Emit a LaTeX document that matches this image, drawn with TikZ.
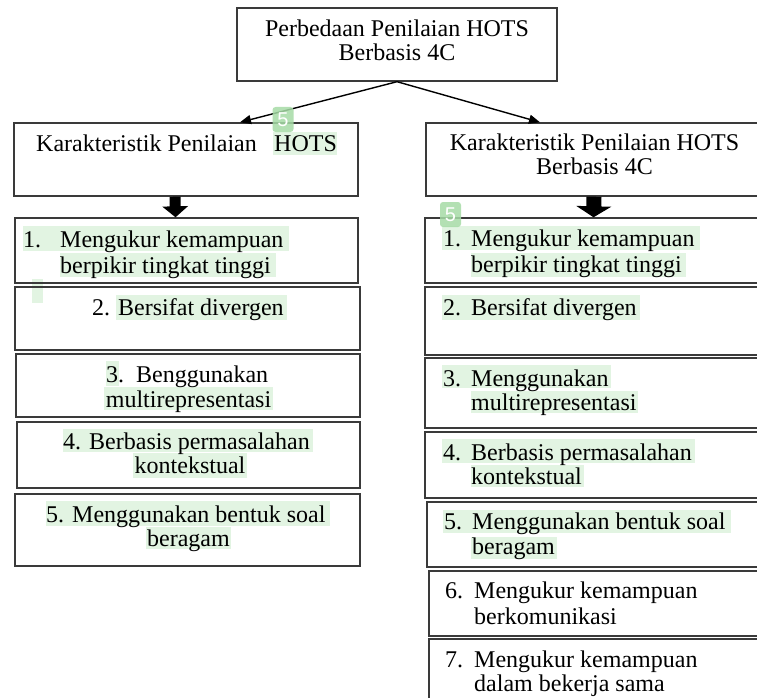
\documentclass[tikz,border=0pt]{standalone}
\usepackage{fontspec}
\setmainfont{Liberation Serif}
\newfontfamily\badgefont{Liberation Sans}
\usetikzlibrary{arrows.meta}
\definecolor{hlgreen}{HTML}{E2F4E2}
\definecolor{badgegreen}{HTML}{A6DBA6}
\definecolor{boxline}{HTML}{3A3A3A}
\begin{document}
\begin{tikzpicture}[x=1pt,y=-1pt,
  box/.style={draw=boxline, line width=1.4pt, rectangle, inner sep=0},
  txt/.style={anchor=base west, inner sep=0, font=\fontsize{24}{25}\selectfont},
  ctxt/.style={anchor=base, inner sep=0, font=\fontsize{24}{25}\selectfont},
  hl/.style={fill=hlgreen},
  badge/.style={fill=badgegreen, fill opacity=0.85, text opacity=1, text=white, rounded corners=3pt, inner sep=0, font=\badgefont\fontsize{20}{20}\selectfont},
  thinarrow/.style={draw=black, line width=1.4pt, -{Triangle[length=11pt,width=9pt]}},
  blockarrow/.style={draw=black, line width=#1, -{Triangle[length=11pt,width=2.3*#1]}}
]
\useasboundingbox (0,0) rectangle (757,698);
\clip (0,0) rectangle (757,698);
\fill[white] (0,0) rectangle (757,698);

% highlights
\fill[hl] (273,132) rectangle (337,155);
\fill[hl] (23,226) rectangle (289,251);
\fill[hl] (60,253) rectangle (276,277);
\fill[hl] (32,279) rectangle (43,303);
\fill[hl] (116,295) rectangle (287,320);
\fill[hl] (106,361) rectangle (119,386);
\fill[hl] (104,387) rectangle (273,410);
\fill[hl] (63,429) rectangle (313,452);
\fill[hl] (133,453) rectangle (247,478);
\fill[hl] (46,501) rectangle (330,526);
\fill[hl] (146,527) rectangle (231,549);
\fill[hl] (442,226) rectangle (700,250);
\fill[hl] (471,253) rectangle (686,277);
\fill[hl] (442,295) rectangle (640,320);
\fill[hl] (442,365) rectangle (611,388);
\fill[hl] (471,391) rectangle (638,413);
\fill[hl] (442,439) rectangle (695,463);
\fill[hl] (471,465) rectangle (584,487);
\fill[hl] (443,510) rectangle (731,533);
\fill[hl] (471,537) rectangle (557,559);

% boxes
\node[box, minimum width=320pt, minimum height=73pt] (top) at (397,44.5) {};
\node[box, minimum width=344pt, minimum height=73pt] (hdrL) at (186,159.5) {};
\node[box, minimum width=354pt, minimum height=73pt] (hdrR) at (603,159.5) {};
\node[box, minimum width=343pt, minimum height=65pt] (L1) at (186.5,250.5) {};
\node[box, minimum width=345pt, minimum height=63pt] (L2) at (187.5,318.5) {};
\node[box, minimum width=344pt, minimum height=63pt] (L3) at (188,385.5) {};
\node[box, minimum width=343pt, minimum height=66pt] (L4) at (188.5,455) {};
\node[box, minimum width=345pt, minimum height=72pt] (L5) at (187.5,530) {};
\node[box, minimum width=355pt, minimum height=65pt] (R1) at (602.5,250.5) {};
\node[box, minimum width=355pt, minimum height=68pt] (R2) at (602.5,321) {};
\node[box, minimum width=355pt, minimum height=70pt] (R3) at (602.5,393) {};
\node[box, minimum width=355pt, minimum height=66pt] (R4) at (602.5,465) {};
\node[box, minimum width=353pt, minimum height=65pt] (R5) at (603.5,534.5) {};
\node[box, minimum width=351pt, minimum height=65pt] (R6) at (604.5,603.5) {};
\node[box, minimum width=351pt, minimum height=81pt] (R7) at (604.5,679.5) {};

% connectors
\draw[thinarrow] (top.south) -- ([xshift=54pt]hdrL.north);
\draw[thinarrow] (top.south) -- ([xshift=-63pt]hdrR.north);
\draw[blockarrow=11pt] ([xshift=-11pt]hdrL.south) -- ([xshift=-11pt]L1.north);
\draw[blockarrow=15pt] ([xshift=-9pt]hdrR.south) -- ([xshift=-9pt]R1.north);

% texts
\node[ctxt] (t0a) at (397,37) {Perbedaan Penilaian HOTS};
\node[ctxt] (t0b) at (397,61) {Berbasis 4C};
\node[txt] (tLh) at (36,151) {Karakteristik Penilaian};
\node[txt] (tLh2) at (274,151) {HOTS};
\node[ctxt] (tRh) at (594.5,150) {Karakteristik Penilaian HOTS};
\node[ctxt] (tRh2) at (594.5,174) {Berbasis 4C};

\node[txt] (l1n) at (23,247) {1.};
\node[txt] (l1a) at (60,247) {Mengukur kemampuan};
\node[txt] (l1b) at (60,273) {berpikir tingkat tinggi};
\node[txt] (l2a) at (92,315) {2. Bersifat divergen};
\node[txt] (l3a) at (106,382) {3.\ \ Benggunakan};
\node[ctxt] (l3b) at (188.5,407) {multirepresentasi};
\node[txt] (l4a) at (63,449) {4. Berbasis permasalahan};
\node[ctxt] (l4b) at (190,473) {kontekstual};
\node[txt] (l5a) at (46,522) {5. Menggunakan bentuk soal};
\node[ctxt] (l5b) at (188.5,546) {beragam};

\node[txt] (r1n) at (443,246) {1.};
\node[txt] (r1a) at (471,246) {Mengukur kemampuan};
\node[txt] (r1b) at (471,272) {berpikir tingkat tinggi};
\node[txt] (r2n) at (443,315) {2.};
\node[txt] (r2a) at (471,315) {Bersifat divergen};
\node[txt] (r3n) at (443,386) {3.};
\node[txt] (r3a) at (471,386) {Menggunakan};
\node[txt] (r3b) at (471,410) {multirepresentasi};
\node[txt] (r4n) at (443,460) {4.};
\node[txt] (r4a) at (471,460) {Berbasis permasalahan};
\node[txt] (r4b) at (471,484) {kontekstual};
\node[txt] (r5n) at (444,529) {5.};
\node[txt] (r5a) at (472,529) {Menggunakan bentuk soal};
\node[txt] (r5b) at (472,554) {beragam};
\node[txt] (r6n) at (445,598) {6.};
\node[txt] (r6a) at (474,598) {Mengukur kemampuan};
\node[txt] (r6b) at (474,624) {berkomunikasi};
\node[txt] (r7n) at (445,667) {7.};
\node[txt] (r7a) at (474,667) {Mengukur kemampuan};
\node[txt] (r7b) at (474,691) {dalam bekerja sama};

% badges
\node[badge, minimum width=21pt, minimum height=25pt] (b1) at (283,119.5) {5};
\node[badge, minimum width=21pt, minimum height=25pt] (b2) at (450.5,214.5) {5};
\end{tikzpicture}
\end{document}
